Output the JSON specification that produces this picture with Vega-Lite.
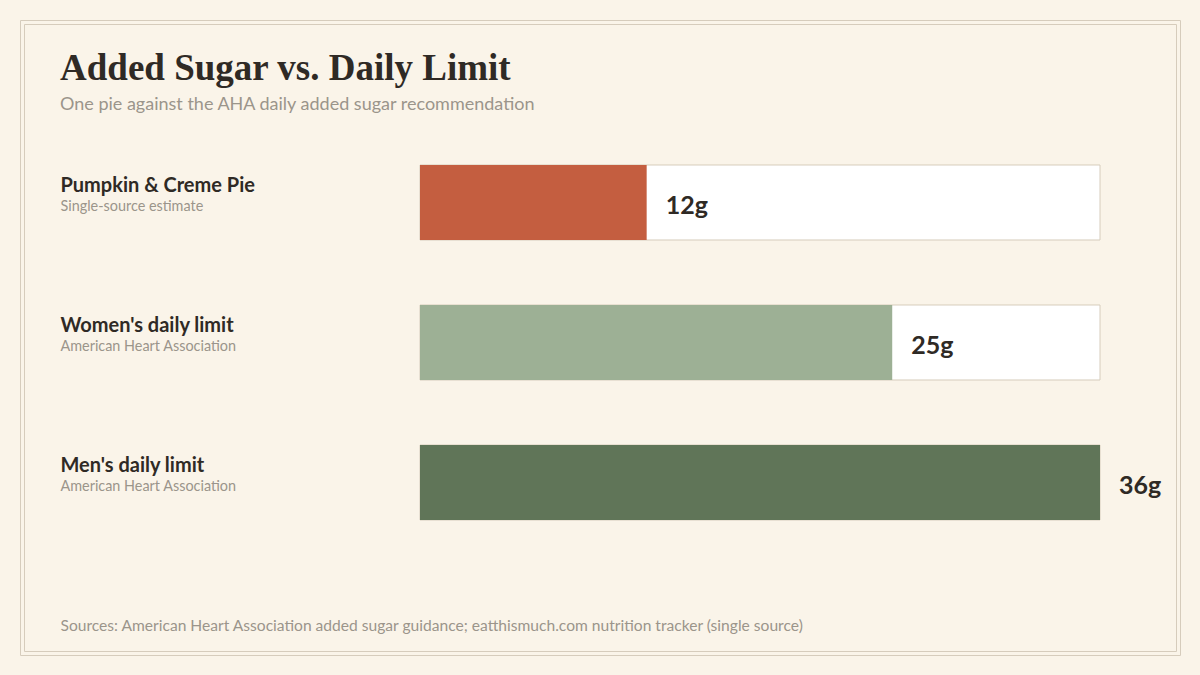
{
  "$schema": "https://vega.github.io/schema/vega-lite/v6.json",
  "description": "Added sugar in one pie against the AHA daily limits.",
  "width": 1160,
  "height": 635,
  "padding": {"left": 20, "top": 20, "right": 20, "bottom": 20},
  "autosize": {"type": "none"},
  "background": "#faf4e9",
  "config": {
    "view": {"stroke": "#d6ccbc", "strokeWidth": 1},
    "axis": {"grid": false, "ticks": false, "domainColor": "#d6ccbc", "domainWidth": 1}
  },
  "title": {
    "text": "Added Sugar vs. Daily Limit",
    "subtitle": "One pie against the AHA daily added sugar recommendation",
    "orient": "top",
    "anchor": "start",
    "frame": "group",
    "offset": -95,
    "dx": 40,
    "font": "Liberation Serif",
    "fontSize": 37,
    "fontWeight": "bold",
    "color": "#2f2a25",
    "subtitleFont": "Lato",
    "subtitleFontSize": 18,
    "subtitleColor": "#9b958b",
    "subtitlePadding": 8
  },
  "datasets": {
    "rows": [
      {"item": "Pumpkin & Creme Pie", "source": "Single-source estimate", "grams": 12},
      {"item": "Women's daily limit", "source": "American Heart Association", "grams": 25},
      {"item": "Men's daily limit", "source": "American Heart Association", "grams": 36}
    ]
  },
  "data": {"name": "rows"},
  "resolve": {"axis": {"x": "independent", "y": "independent"}},
  "layer": [
    {
      "transform": [{"joinaggregate": [{"op": "max", "field": "grams", "as": "limit"}]}],
      "mark": {"type": "bar", "fill": "white", "stroke": "#d6ccbc", "strokeWidth": 1},
      "encoding": {
        "y": {
          "field": "item", "type": "nominal", "sort": null,
          "scale": {"range": [4, 631], "paddingInner": 0.4642857, "paddingOuter": 0.9714286, "align": 0.518382},
          "axis": {
            "orient": "left", "offset": -4, "domain": true, "title": null,
            "labelAlign": "left", "labelPadding": -36, "labelBaseline": "alphabetic", "labelOffset": -10,
            "labelFont": "Lato", "labelFontSize": 20, "labelFontWeight": "bold", "labelColor": "#2f2a25", "labelLimit": 400
          }
        },
        "x": {
          "field": "limit", "type": "quantitative",
          "scale": {"domain": [-20.964706, 40.023529], "range": [4, 1156], "zero": false, "nice": false},
          "axis": {"orient": "top", "offset": -4, "domain": true, "labels": false, "title": null}
        },
        "x2": {"datum": 0}
      }
    },
    {
      "mark": {"type": "bar"},
      "encoding": {
        "y": {
          "field": "item", "type": "nominal", "sort": null,
          "axis": {"orient": "right", "offset": -4, "domain": true, "labels": false, "title": null}
        },
        "x": {
          "field": "grams", "type": "quantitative",
          "axis": {
            "orient": "bottom", "offset": -4, "domain": true, "labels": false,
            "title": "Sources: American Heart Association added sugar guidance; eatthismuch.com nutrition tracker (single source)",
            "titleX": 40, "titleY": -21, "titleAlign": "left", "titleBaseline": "alphabetic", "titleAngle": 0,
            "titleFont": "Lato", "titleFontSize": 15.6, "titleFontWeight": "normal", "titleColor": "#9b958b"
          }
        },
        "x2": {"datum": 0},
        "color": {
          "field": "item", "type": "nominal", "legend": null,
          "scale": {
            "domain": ["Pumpkin & Creme Pie", "Women's daily limit", "Men's daily limit"],
            "range": ["#c45e40", "#9db095", "#607558"]
          }
        }
      }
    },
    {
      "transform": [{"calculate": "datum.grams + 'g'", "as": "label"}],
      "mark": {
        "type": "text", "align": "left", "baseline": "alphabetic", "dx": 19, "dy": 11.5,
        "font": "Lato", "fontSize": 25, "fontWeight": "bold", "color": "#2f2a25"
      },
      "encoding": {
        "y": {
          "field": "item", "type": "nominal", "sort": null,
          "axis": {
            "orient": "left", "offset": -4, "domain": false, "title": null,
            "labelExpr": "pluck(data('rows'), 'source')[indexof(pluck(data('rows'), 'item'), datum.value)]",
            "labelAlign": "left", "labelPadding": -36, "labelBaseline": "alphabetic", "labelOffset": 9,
            "labelFont": "Lato", "labelFontSize": 14.4, "labelColor": "#9b958b", "labelLimit": 400
          }
        },
        "x": {"field": "grams", "type": "quantitative", "axis": null},
        "text": {"field": "label"}
      }
    }
  ]
}
